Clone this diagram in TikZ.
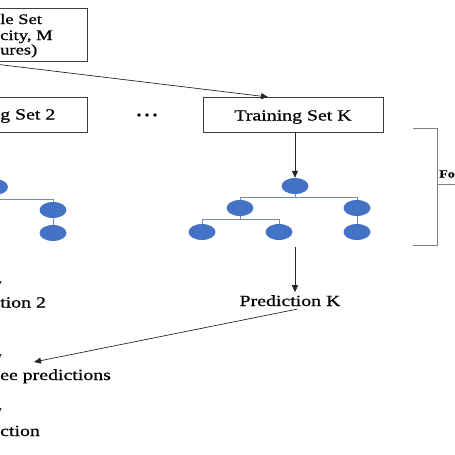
\documentclass[tikz,border=0pt]{standalone}
\usepackage{fontspec}
\setmainfont{Liberation Serif}[FakeStretch=1.28,FakeBold=0.7]
\usetikzlibrary{arrows.meta,shapes.geometric}
\definecolor{nodeblue}{RGB}{68,114,196}
\definecolor{linkblue}{RGB}{110,140,195}
\definecolor{boxgray}{RGB}{60,60,60}
\begin{document}
\begin{tikzpicture}[x=1pt,y=-1pt,
  box/.style={draw=boxgray, line width=0.9pt, inner sep=0pt, outer sep=0pt},
  txt/.style={inner sep=0pt, font=\fontsize{15.5}{18}\selectfont},
  stxt/.style={inner sep=0pt, font=\fontsize{14.5}{16}\selectfont},
  leaf/.style={ellipse, fill=nodeblue, minimum width=27pt, minimum height=16pt, inner sep=0pt},
  link/.style={draw=linkblue, line width=0.8pt},
  arr/.style={draw=black!85, line width=0.7pt, -{Triangle[length=7pt,width=6pt]}},
  brk/.style={draw=gray, line width=0.8pt}]
\useasboundingbox (0,0) rectangle (455,455);
\clip (0,0) rectangle (455,455);
% top box
\node[box, minimum width=234pt, minimum height=53pt, anchor=east] (top) at (87,34.5) {};
\node[stxt, anchor=base west] (t1) at (0,24) {le Set};
\node[stxt, anchor=base west] (t2) at (0,40) {city, M};
\node[stxt, anchor=base west] (t3) at (0,54.5) {ures)};
% training set 2
\node[box, minimum width=120pt, minimum height=35pt, anchor=east] (box2) at (87,114.5) {};
\node[txt, anchor=base west] (ts2) at (0,119.5) {g Set 2};
% dots
\fill (139,115) circle (1.8pt) (147,115) circle (1.8pt) (155,115) circle (1.8pt);
% training set K
\node[box, minimum width=180pt, minimum height=35pt] (boxK) at (293,114.5) {};
\node[txt, anchor=base] (tsK) at (293,120.5) {Training Set K};
\draw[arr] (top.south) -- ([xshift=-25pt]boxK.north);
% tree K
\node[leaf] (r) at (295,186) {};
\node[leaf] (c1) at (240,208) {};
\node[leaf] (c2) at (357,208) {};
\node[leaf] (l1) at (202,232) {};
\node[leaf] (l2) at (279,232) {};
\node[leaf] (l3) at (357,232) {};
\draw[arr] (boxK.south -| r) -- (r.north);
\draw[link] (r.south) -- ++(0,3) coordinate (rb);
\draw[link] (c1.north) |- (rb) -| (c2.north);
\draw[link] (c1.south) -- ++(0,3) coordinate (cb);
\draw[link] (l1.north) |- (cb) -| (l2.north);
\draw[link] (c2.south) -- (l3.north);
% tree 2 (left, partly cut)
\node[leaf] (r2) at (-5.5,187) {};
\node[leaf] (c21) at (53,210) {};
\node[leaf] (l21) at (53,233) {};
\draw[link] (r2.south) |- ++(0,4) coordinate (r2b);
\draw[link] (r2b) -| (c21.north);
\draw[link] (c21.south) -- (l21.north);
% prediction K
\coordinate (tK) at (295,247);
\node[txt, anchor=base, outer sep=3pt] (pK) at (290,306) {Prediction K};
\draw[arr] (tK) -- (pK.north -| tK);
% left column fragments
\node[txt, anchor=base west] (p2) at (0,307.5) {tion 2};
\node[txt, anchor=base west] (ep) at (0,380) {ee predictions};
\node[txt, anchor=base west] (fp) at (0,436) {ction};
\coordinate (a1s) at (-1.5,255);
\coordinate (a1e) at (-1.5,288);
\draw[arr] (a1s) -- (a1e);
\coordinate (a2s) at (-1.5,325);
\coordinate (a2e) at (-1.5,361);
\draw[arr] (a2s) -- (a2e);
\coordinate (a3s) at (-1.5,390);
\coordinate (a3e) at (-1.5,415);
\draw[arr] (a3s) -- (a3e);
\coordinate (epin) at (34,362);
\draw[arr] ([xshift=7pt]pK.south) -- (epin);
% bracket
\draw[brk] (413,128) -- (437,128) -- (437,245) -- (413,245);
\draw[brk] (437,184) -- (455,184);
\node[inner sep=0pt, anchor=base west, font=\fontsize{11}{12}\selectfont\bfseries] (fo) at (439,177.5) {Fo};
\end{tikzpicture}
\end{document}
